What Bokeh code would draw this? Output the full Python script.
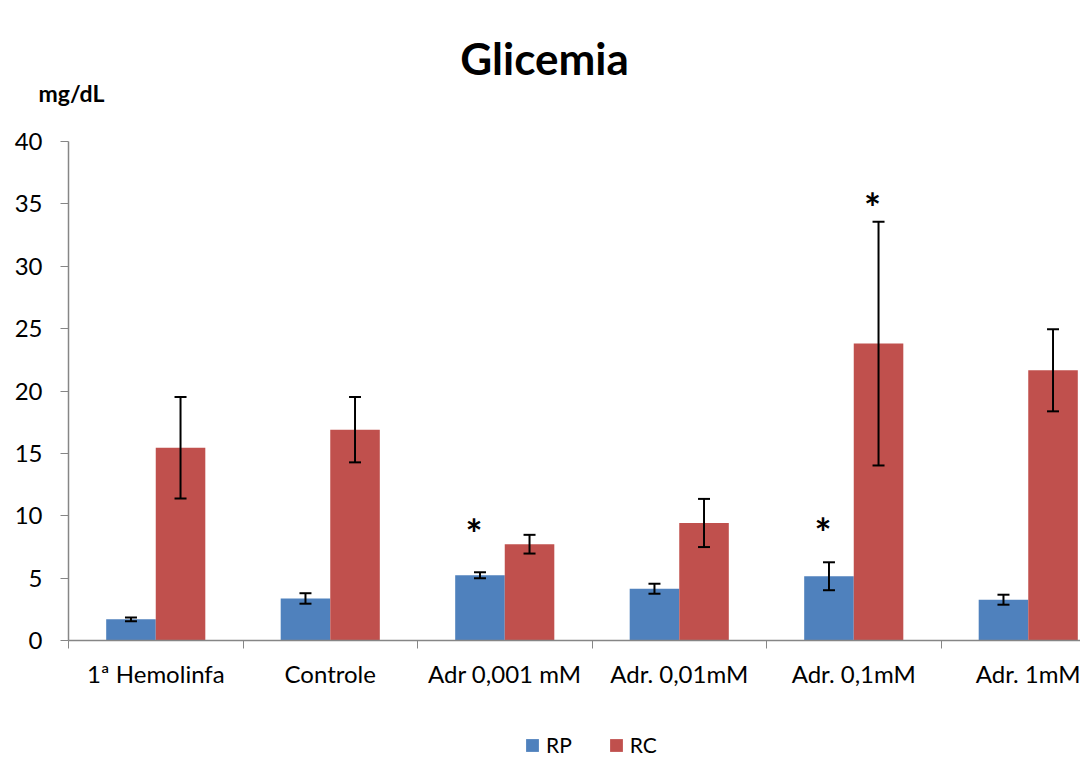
from bokeh.plotting import figure
from bokeh.models import (ColumnDataSource, Range1d, FixedTicker, Whisker, TeeHead,
                          Legend, LegendItem, Label)
from bokeh.core.properties import value
from bokeh.embed import file_html
from bokeh.resources import INLINE

categories = ["1ª Hemolinfa", "Controle", "Adr 0,001 mM", "Adr. 0,01mM", "Adr. 0,1mM", "Adr. 1mM"]
rp_values = [1.70, 3.37, 5.23, 4.15, 5.15, 3.27]
rp_errors = [0.15, 0.42, 0.24, 0.40, 1.12, 0.40]
rc_values = [15.45, 16.90, 7.72, 9.42, 23.80, 21.66]
rc_errors = [4.07, 2.62, 0.75, 1.93, 9.77, 3.29]
y_ticks = [0, 5, 10, 15, 20, 25, 30, 35, 40]
# significance marks: (category index, series, y position of mark)
star_cat = [2, 4, 4]
star_series = ["RP", "RP", "RC"]
star_y = [8.55, 8.65, 34.65]

title_text = "Glicemia"
unit_text = "mg/dL"

FONT = "Lato"
BLUE = "#4F81BD"
RED = "#C0504D"
AXIS = "#868686"

W, H = 1080, 756
X0, CAT_PX = 68, 174.5      # pixel of category axis start, pixels per category
Y0, UNIT_PX = 640, 12.475   # pixel of value 0, pixels per mg/dL

n = len(categories)
offset = 0.142
bw = 0.284
centers = [i + 0.5 for i in range(n)]

rp_x = [c - offset for c in centers]
rc_x = [c + offset for c in centers]

rp_src = ColumnDataSource(dict(x=rp_x, top=rp_values,
                               upper=[v + e for v, e in zip(rp_values, rp_errors)],
                               lower=[v - e for v, e in zip(rp_values, rp_errors)]))
rc_src = ColumnDataSource(dict(x=rc_x, top=rc_values,
                               upper=[v + e for v, e in zip(rc_values, rc_errors)],
                               lower=[v - e for v, e in zip(rc_values, rc_errors)]))

p = figure(width=W, height=H, output_backend="svg", toolbar_location=None,
           x_range=Range1d(-X0 / CAT_PX, (W - X0) / CAT_PX),
           y_range=Range1d(-(H - Y0) / UNIT_PX, Y0 / UNIT_PX),
           min_border=0, min_border_left=0, min_border_right=0, min_border_top=0, min_border_bottom=0)
p.outline_line_color = None
p.xgrid.grid_line_color = None
p.ygrid.grid_line_color = None

r_rp = p.vbar(x="x", top="top", width=bw, bottom=0, source=rp_src, fill_color=BLUE, line_color=None)
r_rc = p.vbar(x="x", top="top", width=bw, bottom=0, source=rc_src, fill_color=RED, line_color=None)

for src in (rp_src, rc_src):
    w = Whisker(base="x", upper="upper", lower="lower", source=src, line_color="black", line_width=2,
                upper_head=TeeHead(size=12, line_width=2, line_color="black"),
                lower_head=TeeHead(size=12, line_width=2, line_color="black"))
    w.level = "overlay"
    p.add_layout(w)

sx = [centers[c] + (-offset if s == "RP" else offset) for c, s in zip(star_cat, star_series)]
p.text(x=sx, y=star_y, text=["*"] * len(sx), text_font=value(FONT), text_font_style="bold",
       text_font_size="40px", text_align="center", text_baseline="middle", x_offset=-6,
       text_color="black")

xa = p.xaxis[0]
xa.fixed_location = 0
xa.bounds = (0, n)
xa.ticker = FixedTicker(ticks=centers, minor_ticks=list(range(n + 1)))
xa.major_label_overrides = {c: cat for c, cat in zip(centers, categories)}
xa.major_tick_line_color = None
xa.minor_tick_line_color = AXIS
xa.minor_tick_out = 8
xa.minor_tick_in = 0
xa.axis_line_color = AXIS
xa.axis_line_width = 1.5
xa.major_label_text_font = FONT
xa.major_label_text_font_size = "24px"
xa.major_label_text_color = "black"
xa.major_label_standoff = 10

ya = p.yaxis[0]
ya.fixed_location = 0
ya.bounds = (0, 40)
ya.ticker = FixedTicker(ticks=y_ticks)
ya.major_tick_line_color = AXIS
ya.major_tick_out = 8
ya.major_tick_in = 0
ya.minor_tick_line_color = None
ya.axis_line_color = AXIS
ya.axis_line_width = 1.5
ya.major_label_text_font = FONT
ya.major_label_text_font_size = "24px"
ya.major_label_text_color = "black"
ya.major_label_standoff = 18

# chart title and unit label
p.add_layout(Label(x=(544 - X0) / CAT_PX, y=(Y0 - 57) / UNIT_PX, text=title_text, text_font=FONT,
                   text_font_style="bold", text_font_size="44px", text_align="center",
                   text_baseline="alphabetic", text_color="black"))
p.add_layout(Label(x=(38 - X0) / CAT_PX, y=(Y0 - 92) / UNIT_PX, text=unit_text, text_font=FONT,
                   text_font_style="bold", text_font_size="23px", text_align="left",
                   text_baseline="alphabetic", text_color="black"))

legend = Legend(items=[LegendItem(label="RP", renderers=[r_rp]), LegendItem(label="RC", renderers=[r_rc])],
                orientation="horizontal", location=(524, -1), padding=0, margin=0, spacing=36,
                glyph_width=16, glyph_height=16, label_standoff=6, border_line_color=None,
                background_fill_alpha=0, label_text_font=FONT, label_text_font_size="21px",
                label_text_color="black")
p.add_layout(legend)

open("out.html", "w").write(file_html(p, INLINE))
